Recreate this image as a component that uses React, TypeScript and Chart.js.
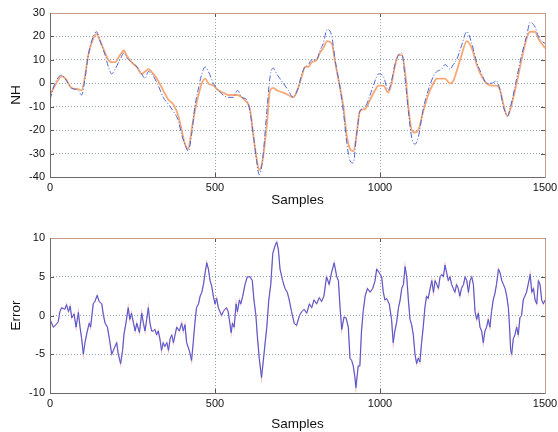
import React, { useEffect, useRef } from "react";
import { Chart, registerables } from "chart.js";

Chart.register(...registerables);

// ---- Top plot: NH (actual = blue dash-dot, model = orange) ----
const topSamples = [0, 15, 35, 50, 65, 85, 96, 106, 116, 131, 141, 152, 167, 177, 187, 197, 212, 224, 232, 247, 263, 278, 288, 298, 313, 328, 343, 359, 374, 389, 399, 409, 419, 429, 439, 450, 460, 470, 480, 495, 510, 525, 540, 556, 568, 581, 596, 606, 616, 626, 634, 644, 657, 667, 677, 687, 707, 722, 737, 752, 763, 773, 783, 793, 808, 818, 828, 840, 854, 864, 879, 889, 899, 909, 919, 929, 939, 955, 970, 985, 995, 1010, 1025, 1035, 1045, 1056, 1066, 1076, 1086, 1096, 1106, 1116, 1131, 1146, 1162, 1172, 1187, 1197, 1212, 1222, 1232, 1247, 1263, 1278, 1293, 1308, 1323, 1338, 1353, 1364, 1374, 1386, 1399, 1414, 1429, 1444, 1455, 1470, 1480, 1490, 1500];
const nhActual = [-7, 0, 3.5, 1, -2, -3, -5, 2, 12, 20, 22, 18, 12, 7, 4, 6, 10, 13, 11, 9, 7, 4, 2, 5, 3, -1, -6, -9, -12, -16, -22, -26, -29, -22, -10, -2, 4, 7, 5, 0, -3, -5, -6, -6, -3, -6, -7, -12, -22, -33, -39, -33, -12, 3, 6.5, 4, 0, -3, -6, -2, 4, 7, 8, 10, 10, 14, 17, 23, 20, 10, -2, -12, -25, -33, -34, -22, -12, -10, -5, 1, 4, 3, -3, 1, 8, 12, 13, 2, -12, -23, -26, -23, -11, -3, 3, 5, 6, 8, 6, 8, 10, 16, 22, 17, 9, 4, 0, 0, 1, -3, -10, -14, -8, 2, 12, 20, 26, 24, 20, 18, 17];
const nhModel = [-5, -1, 3, 1.5, -2, -2.5, -3, 3, 12, 19, 21, 18, 13, 10, 9, 9, 12, 14, 12, 9, 7, 4, 5, 6, 4, 1, -3, -7, -9, -14, -20, -26, -28, -20, -12, -5, 0, 2, 0, -1, -3, -4, -5, -5, -5, -6, -8, -11, -22, -32, -37, -33, -18, -3, -2, -3, -4, -5, -6, -2, 3, 7, 7, 9, 10, 13, 15, 18, 17, 9, -2, -10, -22, -28, -29, -22, -12, -11, -7, -3, -1, -1, -4, 0, 7, 12, 12, 5, -10, -20, -21, -20, -12, -5, 0, 2, 2, 2, 0, 1, 5, 12, 18, 15, 8, 3, 0, -1, -1, -3, -9, -14, -9, 0, 10, 19, 22, 22, 19, 17, 15];
const topYTicks = [-40, -30, -20, -10, 0, 10, 20, 30];

// ---- Bottom plot: Error ----
const errSamples = [0, 5, 10, 18, 25, 30, 35, 45, 50, 56, 61, 66, 73, 79, 86, 91, 96, 101, 106, 113, 119, 123, 131, 136, 143, 149, 157, 162, 167, 174, 180, 187, 192, 197, 202, 207, 214, 220, 224, 230, 237, 242, 247, 253, 258, 263, 271, 278, 283, 288, 293, 298, 303, 308, 313, 318, 323, 328, 333, 338, 343, 348, 354, 359, 364, 369, 374, 379, 384, 392, 399, 404, 409, 414, 422, 429, 434, 439, 444, 450, 455, 460, 465, 470, 475, 480, 485, 490, 495, 500, 505, 510, 515, 520, 525, 530, 535, 540, 545, 549, 553, 558, 564, 568, 574, 578, 584, 591, 598, 606, 613, 618, 624, 628, 634, 641, 646, 652, 657, 663, 669, 675, 682, 687, 692, 697, 705, 712, 719, 725, 732, 740, 747, 756, 763, 770, 778, 786, 793, 800, 808, 816, 823, 830, 838, 846, 853, 861, 869, 874, 879, 884, 891, 897, 904, 909, 914, 919, 924, 927, 934, 939, 944, 949, 955, 962, 970, 978, 985, 990, 998, 1005, 1010, 1015, 1020, 1028, 1035, 1040, 1045, 1050, 1056, 1061, 1066, 1071, 1076, 1081, 1086, 1091, 1096, 1101, 1106, 1111, 1116, 1121, 1126, 1131, 1136, 1141, 1146, 1152, 1157, 1162, 1167, 1172, 1177, 1182, 1187, 1192, 1197, 1202, 1207, 1212, 1217, 1222, 1227, 1232, 1237, 1242, 1247, 1253, 1258, 1263, 1268, 1273, 1278, 1283, 1288, 1293, 1298, 1303, 1308, 1313, 1318, 1323, 1328, 1333, 1338, 1343, 1348, 1353, 1359, 1364, 1369, 1374, 1379, 1384, 1389, 1392, 1396, 1399, 1404, 1409, 1414, 1419, 1424, 1429, 1434, 1439, 1444, 1449, 1455, 1460, 1465, 1470, 1475, 1480, 1485, 1490, 1495, 1500];
const errValues = [-0.5, -1, -1.5, -1.2, -0.8, 0.5, 1, 0.8, 1.4, 0.5, 1.2, -0.3, 0.2, -1.5, 0.4, -1.5, -3, -5, -3.5, -2, -1, -1.5, 1.5, 1.8, 2.6, 1.8, 1.5, 0, -1, -1.5, -3, -5, -4.5, -4, -3.5, -5, -6.2, -4.5, -2.5, -1, 1, -0.5, 0.3, -1, -2, -1, -2.2, 0.3, -1, -2, -0.5, 1, -1, -2, -2, -1.8, -2.5, -2, -3, -4.5, -3.5, -4, -3.5, -4.5, -3, -2.5, -3.5, -2.5, -1.5, -2, -1, -2, -1.2, -3.5, -4.5, -5.8, -3.5, -1, 1, 1.5, 2.5, 3, 4, 5.5, 6.8, 6, 4.5, 3.8, 2.5, 1.5, 2.2, 1, 0.5, 0, 0.5, 0.8, 1, 0.5, -1, -2.2, -1, -1.5, 1.5, 0.5, 2, 1.5, 2.5, 4, 5, 5, 4.5, 2, 0, -2.5, -5.5, -8, -6, -3.5, -1.5, 2, 4, 8, 9, 9.5, 8.5, 6, 4.5, 3.5, 3, 2, 0.5, -1, -1.3, 0, 0.5, 0.8, 0.3, 1.5, 1, 2, 1.5, 2.3, 1.8, 2.5, 5, 4, 5.5, 6.8, 5, 4.5, 1, -1.8, -0.2, -0.3, -1.5, -5.5, -5.8, -6.5, -8, -9.3, -6.5, -6.5, -2, 0.5, 2.5, 3.5, 3, 3.5, 4.5, 6, 5.5, 5, 3, 2, 2.2, 1.5, -0.5, -3.5, -2, -1, 1, 2, 3.5, 4, 6.3, 5, 2, -0.5, -1.2, -2.5, -5, -6.2, -5.5, -6, -3.5, -1.5, 1, 2.5, 2.2, 3.5, 4.5, 3, 4.5, 4, 3.5, 5, 5.3, 5, 6.5, 5.5, 4.5, 5, 4, 3.5, 3, 4, 3.5, 2.5, 3.5, 4, 5, 4.5, 3, 4.5, 5, 4, 0.5, -0.5, 0.3, -1.5, -2, -3.5, -2, -1.5, -0.5, -1.5, 0.5, 2, 2.8, 4, 6, 5.5, 4.5, 4, 3.5, 2.5, 1, -1, -4.5, -5, -3, -2.5, -1.5, -2.5, -0.3, 0, 2, 2.5, 3, 4, 5.3, 3, 3.5, 2, 1.5, 4.5, 4, 2, 1.5, 2];
const errYTicks = [-10, -5, 0, 5, 10];
const xTicks = [0, 500, 1000, 1500];

const FONT = "'Liberation Sans', Arial, Helvetica, sans-serif";
const GRID = "#8ea2ac";

const boxPlugin = {
  id: "matlabBox",
  afterDraw(chart: any) {
    const { ctx, chartArea: a, scales } = chart;
    ctx.save();
    ctx.lineWidth = 1;
    ctx.strokeStyle = "#555";
    const seg = (x1: number, y1: number, x2: number, y2: number) => {
      ctx.beginPath();
      ctx.moveTo(x1, y1);
      ctx.lineTo(x2, y2);
      ctx.stroke();
    };
    scales.x.ticks.forEach((t: any) => {
      const p = Math.round(scales.x.getPixelForValue(t.value)) + 0.5;
      seg(p, a.bottom, p, a.bottom - 4);
      seg(p, a.top, p, a.top + 4);
    });
    scales.y.ticks.forEach((t: any) => {
      const p = Math.round(scales.y.getPixelForValue(t.value)) + 0.5;
      seg(a.left, p, a.left + 4, p);
      seg(a.right, p, a.right - 4, p);
    });
    const l = Math.round(a.left) + 0.5, r = Math.round(a.right) + 0.5;
    const t = Math.round(a.top) + 0.5, b = Math.round(a.bottom) + 0.5;
    ctx.strokeStyle = "#c99a88";
    seg(l, t, r, t);
    seg(r, t, r, b);
    ctx.strokeStyle = "#6e6a68";
    seg(l, t, l, b);
    seg(l, b, r, b);
    ctx.restore();
  },
};

function makeOptions(yMin: number, yMax: number, yTicks: number[], yTitle: string, padTop: number, titleBottomPad: number) {
  const gridColor = (min: number, max: number) => (c: any) =>
    c.tick && (c.tick.value === min || c.tick.value === max) ? "rgba(0,0,0,0)" : GRID;
  return {
    animation: false,
    responsive: true,
    maintainAspectRatio: false,
    layout: { padding: { top: padTop, right: 13, bottom: 0, left: 0 } },
    plugins: { legend: { display: false }, tooltip: { enabled: false } },
    elements: { point: { radius: 0 } },
    scales: {
      x: {
        type: "linear",
        min: 0,
        max: 1500,
        afterBuildTicks: (s: any) => { s.ticks = xTicks.map((v) => ({ value: v })); },
        ticks: { color: "#111", font: { family: FONT, size: 11 }, padding: 4, maxRotation: 0, callback: (v: any) => String(v) },
        grid: { color: gridColor(0, 1500), drawTicks: false, lineWidth: 1, tickBorderDash: [1, 2] },
        border: { display: false, dash: [1, 2] },
        title: { display: true, text: "Samples", color: "#111", font: { family: FONT, size: 13.5 }, padding: { top: 0, bottom: titleBottomPad } },
        afterFit: (s: any) => { s.height = 39; s.paddingRight = 0; s.paddingLeft = 0; },
      },
      y: {
        type: "linear",
        min: yMin,
        max: yMax,
        afterBuildTicks: (s: any) => { s.ticks = yTicks.map((v) => ({ value: v })); },
        ticks: { color: "#111", font: { family: FONT, size: 11 }, padding: 5, callback: (v: any) => String(v) },
        grid: { color: gridColor(yMin, yMax), drawTicks: false, lineWidth: 1, tickBorderDash: [1, 2] },
        border: { display: false, dash: [1, 2] },
        title: { display: true, text: yTitle, color: "#111", font: { family: FONT, size: 13.5 }, padding: { top: 8, bottom: 0 } },
        afterFit: (s: any) => { s.width = 50; },
      },
    },
  } as any;
}

function useChart(ref: React.RefObject<HTMLCanvasElement | null>, build: () => any) {
  useEffect(() => {
    if (!ref.current) return;
    const chart = new Chart(ref.current, build());
    return () => chart.destroy();
  }, []);
}

export default function App() {
  const topRef = useRef<HTMLCanvasElement | null>(null);
  const botRef = useRef<HTMLCanvasElement | null>(null);

  useChart(topRef, () => ({
    type: "line",
    data: {
      datasets: [
        {
          label: "NH",
          data: topSamples.map((s, i) => ({ x: s, y: nhActual[i] })),
          borderColor: "#4d68d6",
          borderWidth: 1,
          borderDash: [6, 2, 1, 2],
          cubicInterpolationMode: "monotone",
          fill: false,
        },
        {
          label: "Model",
          data: topSamples.map((s, i) => ({ x: s, y: nhModel[i] })),
          borderColor: "#f6a877",
          borderWidth: 1.8,
          cubicInterpolationMode: "monotone",
          fill: false,
        },
      ],
    },
    options: makeOptions(-40, 30, topYTicks, "NH", 13, 8),
    plugins: [boxPlugin],
  }));

  useChart(botRef, () => ({
    type: "line",
    data: {
      datasets: [
        {
          label: "Error",
          data: errSamples.map((s, i) => ({ x: s, y: errValues[i] })),
          borderColor: "#4556d8",
          borderWidth: 1,
          fill: false,
        },
        {
          label: "Error (model)",
          data: errSamples.map((s, i) => ({ x: s, y: errValues[i] })),
          borderColor: "#f3b8c4",
          borderWidth: 1.5,
          fill: false,
        },
      ],
    },
    options: makeOptions(-10, 10, errYTicks, "Error", 22, 0),
    plugins: [boxPlugin],
  }));

  return (
    <div style={{ position: "absolute", left: 0, top: 0, width: 558, height: 432, background: "#fff" }}>
      <div style={{ position: "absolute", left: 0, top: 0, width: 558, height: 216 }}>
        <canvas ref={topRef} />
      </div>
      <div style={{ position: "absolute", left: 0, top: 216, width: 558, height: 216 }}>
        <canvas ref={botRef} />
      </div>
    </div>
  );
}
